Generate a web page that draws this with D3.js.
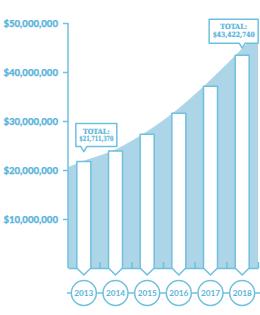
<!DOCTYPE html>
<html>
<head>
<meta charset="utf-8">
<script src="https://cdn.jsdelivr.net/npm/d3@7"></script>
<style>
  body { margin: 0; background: #fff; }
  svg { display: block; }
</style>
</head>
<body>
<svg id="chart"></svg>
<script>
// data
const years = [2013, 2014, 2015, 2016, 2017, 2018];
const totals = [21711370, 23900000, 27300000, 31600000, 37100000, 43422740];
const yTicks = [10000000, 20000000, 30000000, 40000000, 50000000];

// background trend band
const trendYears = [2012.5, 2013, 2014, 2015, 2016, 2017, 2018, 2018.5];
const trendValues = [20600000, 21900000, 24200000, 27900000, 32600000, 38400000, 44800000, 48200000];

const calloutYears = [2013, 2018];
const calloutLabels = ["$21,711,370", "$43,422,740"];

const W = 260, H = 315;
const blue = "#6fc0df";
const text = "#5ab4db";
const fillBlue = "#acd6e7";

const svg = d3.select("#chart").attr("width", W).attr("height", H);

const x = d3.scaleLinear().domain([2012.5, 2018.5]).range([68, 258]);
const y = d3.scaleLinear().domain([0, 50000000]).range([268, 23]);
const barW = 14;
const tip = 7;

// trend area
const area = d3.area()
    .x((d, i) => x(trendYears[i]))
    .y0(y(0))
    .y1(d => y(d))
    .curve(d3.curveMonotoneX);

svg.append("path")
    .attr("d", area(trendValues))
    .attr("fill", fillBlue);

// baseline with small ticks between the bars
const xAxis = d3.axisBottom(x)
    .tickValues(d3.range(2013.5, 2019, 1))
    .tickSize(-6)
    .tickSizeOuter(0)
    .tickFormat("");

svg.append("g")
    .attr("transform", `translate(0,${y(0)})`)
    .call(xAxis)
    .call(g => g.selectAll("line, path").attr("stroke", blue).attr("stroke-width", 1.5));

// bars with pointed bottoms
svg.selectAll(".bar")
  .data(totals)
  .join("path")
    .attr("class", "bar")
    .attr("d", (d, i) => {
      const cx = x(years[i]), x0 = cx - barW / 2, x1 = cx + barW / 2;
      return `M${x0},${y(d)}H${x1}V${y(0)}L${cx},${y(0) + tip}L${x0},${y(0)}Z`;
    })
    .attr("fill", "#fff")
    .attr("stroke", blue)
    .attr("stroke-width", 1.5)
    .attr("stroke-linejoin", "round");

// y axis
const yAxis = d3.axisLeft(y)
    .tickValues(yTicks)
    .tickSize(5)
    .tickSizeOuter(0)
    .tickPadding(5)
    .tickFormat(d3.format("$,"));

svg.append("g")
    .attr("transform", `translate(${x(2012.5)},0)`)
    .call(yAxis)
    .call(g => g.select(".domain").attr("d", `M0,${y(50000000)}V${y(0)}`))
    .call(g => g.selectAll("line, path").attr("stroke", blue).attr("stroke-width", 1.5))
    .call(g => g.selectAll("text")
        .attr("fill", text)
        .attr("font-family", "Lato, sans-serif")
        .attr("font-weight", 900)
        .attr("font-size", 9.6)
        .attr("stroke", text)
        .attr("stroke-width", 0.25));

// callouts
const calloutBox = {
  2013: { left: -8, width: 41, height: 23, gap: 10 },
  2018: { left: -33, width: 49, height: 24, gap: 7 }
};

calloutYears.forEach((yr, k) => {
  const i = years.indexOf(yr);
  const cx = x(yr);
  const b = calloutBox[yr];
  const bottom = y(totals[i]) - b.gap - 5;
  const top = bottom - b.height;
  const l = cx + b.left, r = l + b.width;
  const g = svg.append("g");
  g.append("path")
      .attr("d", `M${l},${top}H${r}V${bottom}H${cx + 3}L${cx},${bottom + 5}L${cx - 3},${bottom}H${l}Z`)
      .attr("fill", "#fff")
      .attr("stroke", blue)
      .attr("stroke-width", 1.5)
      .attr("stroke-linejoin", "round");
  const mid = (l + r) / 2;
  ["TOTAL:", calloutLabels[k]].forEach((t, j) => {
    const tx = g.append("text")
        .attr("x", mid)
        .attr("y", top + 10 + j * 7.5)
        .attr("text-anchor", "middle")
        .attr("fill", text)
        .attr("stroke", text)
        .attr("stroke-width", 0.2)
        .attr("font-family", "'DejaVu Serif Condensed', 'DejaVu Serif', serif")
        .attr("font-weight", 700)
        .attr("font-size", 7.2)
        .text(t);
    if (j === 1) {
      tx.attr("textLength", b.width - 7).attr("lengthAdjust", "spacingAndGlyphs");
    }
  });
});

// year markers
const yearY = 293;
svg.append("line")
    .attr("x1", x(2012.5) - 1)
    .attr("x2", W)
    .attr("y1", yearY)
    .attr("y2", yearY)
    .attr("stroke", blue)
    .attr("stroke-width", 1.5);

const marks = svg.selectAll(".year")
  .data(years)
  .join("g")
    .attr("class", "year")
    .attr("transform", d => `translate(${x(d)},${yearY})`);

marks.append("circle")
    .attr("r", 12.5)
    .attr("fill", "#fff")
    .attr("stroke", blue)
    .attr("stroke-width", 1.5);

marks.append("text")
    .attr("text-anchor", "middle")
    .attr("dy", "0.35em")
    .attr("fill", text)
    .attr("font-family", "Lato, sans-serif")
    .attr("font-weight", 700)
    .attr("font-size", 8.2)
    .text(d => d);
</script>
</body>
</html>
